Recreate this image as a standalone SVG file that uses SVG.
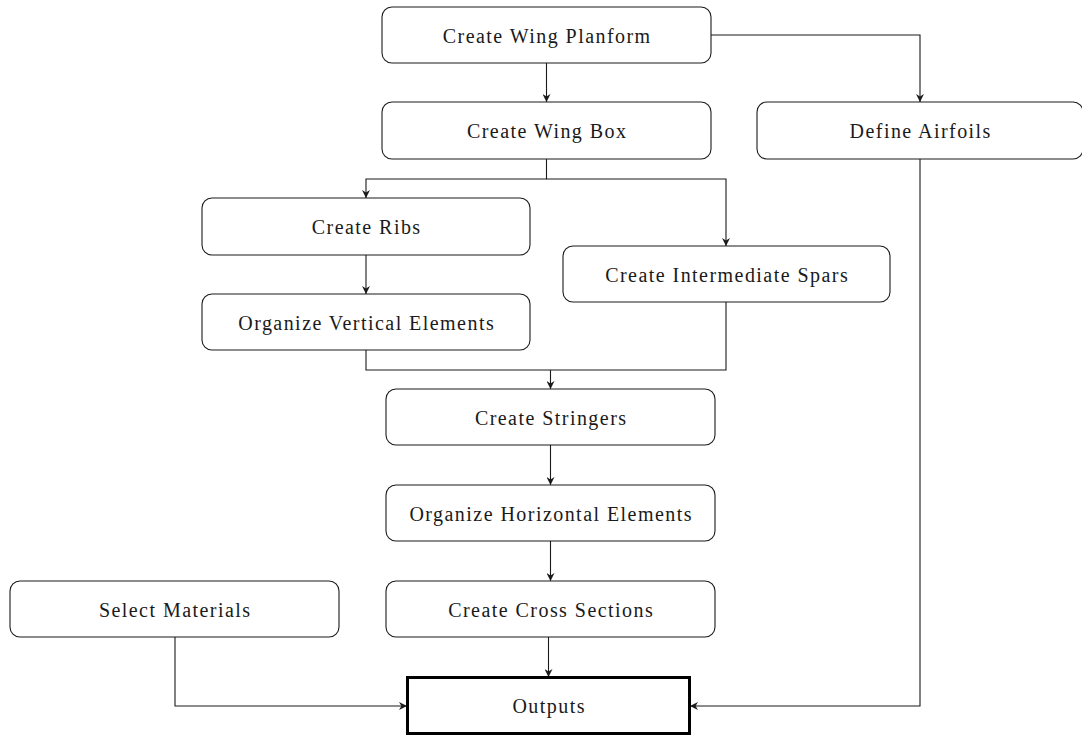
<svg xmlns="http://www.w3.org/2000/svg" width="1082" height="736" viewBox="0 0 1082 736">
  <style>
    .box { fill: #ffffff; stroke: #1a1a1a; stroke-width: 1.1; }
    .out { fill: #ffffff; stroke: #000000; stroke-width: 3; }
    .lbl { font-family: "Liberation Serif", "DejaVu Serif", serif; font-size: 20px; letter-spacing: 1.45px; fill: #1a1a1a; text-anchor: middle; }
    .wire { fill: none; stroke: #1a1a1a; stroke-width: 1.1; }
  </style>
  <defs>
    <marker id="arrow" viewBox="0 0 10 10" refX="10" refY="5" markerWidth="8" markerHeight="8" markerUnits="userSpaceOnUse" orient="auto">
      <path d="M0,0 L10,5 L0,10 L3,5 Z" fill="#1a1a1a"/>
    </marker>
  </defs>
  <rect width="1082" height="736" fill="#ffffff"/>

  <g id="connectors">
    <path class="wire" d="M546.5,63 V102" marker-end="url(#arrow)"/>
    <path class="wire" d="M711,35 H920 V102" marker-end="url(#arrow)"/>
    <path class="wire" d="M546.5,159 V179 H366 V198" marker-end="url(#arrow)"/>
    <path class="wire" d="M546.5,179 H726 V246" marker-end="url(#arrow)"/>
    <path class="wire" d="M366,255 V294" marker-end="url(#arrow)"/>
    <path class="wire" d="M366,350 V370 H726 V302"/>
    <path class="wire" d="M550.5,370 V389" marker-end="url(#arrow)"/>
    <path class="wire" d="M550.5,445 V485" marker-end="url(#arrow)"/>
    <path class="wire" d="M550.5,541 V581" marker-end="url(#arrow)"/>
    <path class="wire" d="M548.5,637 V677" marker-end="url(#arrow)"/>
    <path class="wire" d="M175,637 V706 H407" marker-end="url(#arrow)"/>
    <path class="wire" d="M920,159 V706 H690" marker-end="url(#arrow)"/>
  </g>

  <!-- labels sit 0.7px right of centre to balance the trailing letter-spacing -->
  <g id="wing-planform">
    <rect class="box" x="382" y="7" width="329" height="56" rx="10"/>
    <text class="lbl" x="547.2" y="42.5">Create Wing Planform</text>
  </g>
  <g id="wing-box">
    <rect class="box" x="382" y="102" width="329" height="57" rx="10"/>
    <text class="lbl" x="547.2" y="138">Create Wing Box</text>
  </g>
  <g id="airfoils">
    <rect class="box" x="757" y="102" width="326" height="57" rx="10"/>
    <text class="lbl" x="920.7" y="138">Define Airfoils</text>
  </g>
  <g id="ribs">
    <rect class="box" x="202" y="198" width="328" height="57" rx="10"/>
    <text class="lbl" x="366.7" y="234">Create Ribs</text>
  </g>
  <g id="intermediate-spars">
    <rect class="box" x="563" y="246" width="327" height="56" rx="10"/>
    <text class="lbl" x="727.2" y="281.5">Create Intermediate Spars</text>
  </g>
  <g id="vertical-elements">
    <rect class="box" x="202" y="294" width="328" height="56" rx="10"/>
    <text class="lbl" x="366.7" y="329.5">Organize Vertical Elements</text>
  </g>
  <g id="stringers">
    <rect class="box" x="386" y="389" width="329" height="56" rx="10"/>
    <text class="lbl" x="551.2" y="424.5">Create Stringers</text>
  </g>
  <g id="horizontal-elements">
    <rect class="box" x="386" y="485" width="329" height="56" rx="10"/>
    <text class="lbl" x="551.2" y="520.5">Organize Horizontal Elements</text>
  </g>
  <g id="materials">
    <rect class="box" x="10" y="581" width="329" height="56" rx="10"/>
    <text class="lbl" x="175.2" y="616.5">Select Materials</text>
  </g>
  <g id="cross-sections">
    <rect class="box" x="386" y="581" width="329" height="56" rx="10"/>
    <text class="lbl" x="551.2" y="616.5">Create Cross Sections</text>
  </g>
  <g id="outputs">
    <rect class="out" x="407.5" y="677.5" width="282" height="56"/>
    <text class="lbl" x="549.2" y="713">Outputs</text>
  </g>
</svg>
